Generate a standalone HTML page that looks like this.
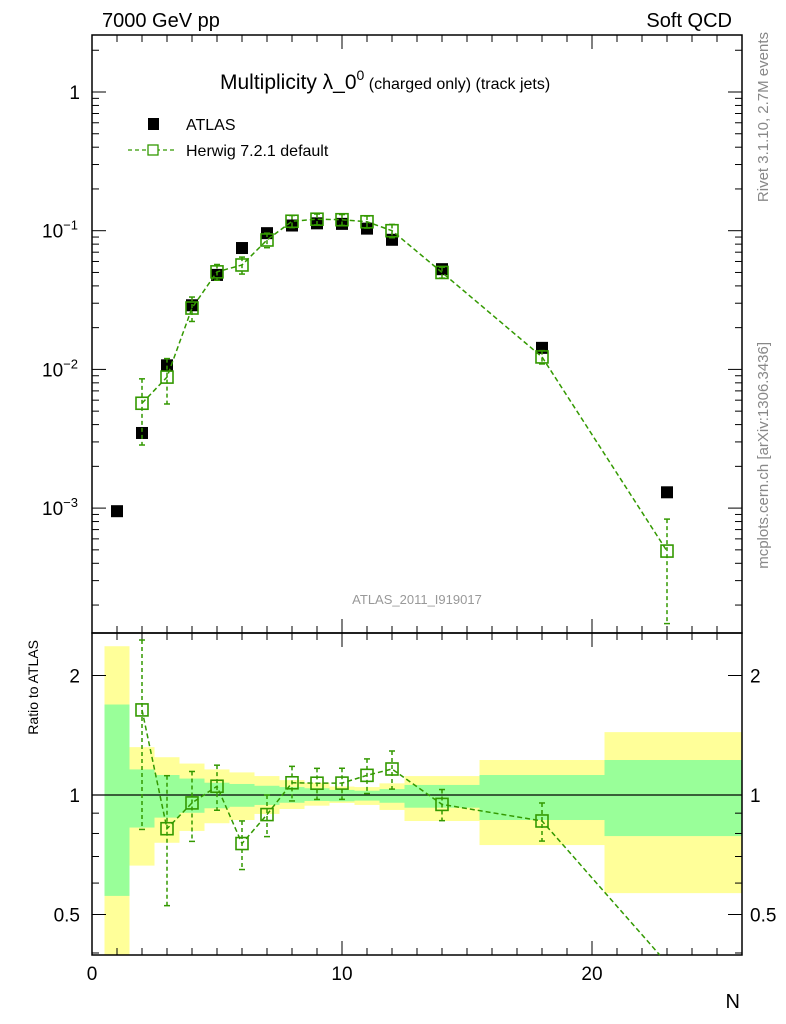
<!DOCTYPE html>
<html><head><meta charset="utf-8"><style>
html,body{margin:0;padding:0;background:#fff;overflow:hidden;width:786px;height:1024px;}
svg{display:block;overflow:hidden;}
svg text{font-family:"Liberation Sans",sans-serif;}
</style></head><body>
<svg id="c" width="786" height="1024" viewBox="0 0 786 1024" xmlns="http://www.w3.org/2000/svg"></svg>
<script>
const nValues=[1,2,3,4,5,6,7,8,9,10,11,12,14,18,23];
const binLo=[0.5,1.5,2.5,3.5,4.5,5.5,6.5,7.5,8.5,9.5,10.5,11.5,12.5,15.5,20.5];
const binHi=[1.5,2.5,3.5,4.5,5.5,6.5,7.5,8.5,9.5,10.5,11.5,12.5,15.5,20.5,26];
const atlasValues=[0.00095,0.00348,0.0107,0.029,0.048,0.075,0.096,0.109,0.113,0.112,0.1035,0.086,0.0528,0.0143,0.0013];
const herwigN=[2,3,4,5,6,7,8,9,10,11,12,14,18,23];
const herwigValues=[0.0057,0.0088,0.0277,0.0505,0.0566,0.0857,0.117,0.121,0.120,0.116,0.100,0.050,0.0123,0.00049];
const herwigRelErr=[0.5,0.36,0.2,0.13,0.14,0.12,0.1,0.09,0.09,0.1,0.11,0.09,0.11,0.7];
const totUp=[2.37,1.32,1.245,1.2,1.16,1.14,1.116,1.09,1.074,1.05,1.047,1.07,1.116,1.225,1.44];
const totDn=[0.2,0.664,0.758,0.812,0.849,0.865,0.896,0.922,0.94,0.955,0.944,0.917,0.86,0.748,0.566];
const statUp=[1.69,1.16,1.123,1.1,1.074,1.066,1.055,1.047,1.04,1.03,1.025,1.035,1.06,1.123,1.225];
const statDn=[0.557,0.828,0.877,0.902,0.926,0.934,0.944,0.956,0.966,0.964,0.968,0.956,0.929,0.865,0.788];
const yTickLabels=["1","10","10","10"];

const svg=document.getElementById('c');
const NS="http://www.w3.org/2000/svg";
function mk(tag,attrs,parent){const e=document.createElementNS(NS,tag);for(const k in attrs)e.setAttribute(k,attrs[k]);(parent||svg).appendChild(e);return e;}
const L=92,R=742,T=35,M=633,B=955;
const X=n=>L+(n-0)*(R-L)/26;
const Y=v=>92-Math.log10(v)*138.7;
const RY=r=>795-Math.log10(r)*397;
const cl=(y,a,b)=>Math.max(a,Math.min(b,y));
const G="#339900";

const bands=mk('g',{});

for(let i=0;i<nValues.length;i++){
  const yt=cl(RY(totUp[i]),M,B),yb=cl(RY(totDn[i]),M,B),st=cl(RY(statUp[i]),M,B),sb=cl(RY(statDn[i]),M,B);
  const r1=mk('rect',{x:X(binLo[i]),y:yt,width:X(Math.min(binHi[i],26))-X(binLo[i]),height:yb-yt,fill:'#ffff99'},bands);
  
  const r2=mk('rect',{x:X(binLo[i]),y:st,width:X(Math.min(binHi[i],26))-X(binLo[i]),height:sb-st,fill:'#99ff99'},bands);
  
}
mk('line',{x1:L,x2:R,y1:RY(1),y2:RY(1),stroke:'#000','stroke-width':1.2});

mk('rect',{x:L,y:T,width:R-L,height:M-T,fill:'none',stroke:'#000','stroke-width':1.5});
mk('rect',{x:L,y:M,width:R-L,height:B-M,fill:'none',stroke:'#000','stroke-width':1.5});

for(let n=1;n<26;n++){
  const len=n%10===0?14:7;
  for(const [y0,d] of [[T,1],[M,-1],[M,1],[B,-1]]) mk('line',{x1:X(n),x2:X(n),y1:y0,y2:y0+d*len,stroke:'#000'});
}
[0,10,20].forEach(n=>{const t=mk('text',{x:X(n),y:980,'font-size':19,'text-anchor':'middle'});t.textContent=n;
});
const xt=mk('text',{x:740,y:1008,'font-size':20,'text-anchor':'end'});xt.textContent='N';


for(let d=-4;d<=0;d++){for(let k=1;k<10;k++){const v=k*Math.pow(10,d);const y=Y(v);if(y<T||y>M)continue;const len=k===1?14:7;
 mk('line',{x1:L,x2:L+len,y1:y,y2:y,stroke:'#000'});mk('line',{x1:R,x2:R-len,y1:y,y2:y,stroke:'#000'});}}
const exps=[0,-1,-2,-3];
exps.forEach((e,i)=>{const t=mk('text',{x:e===0?80:78,y:Y(Math.pow(10,e))+7,'font-size':19,'text-anchor':'end'});
 
 t.textContent=yTickLabels[i];if(e!==0){const s=mk('tspan',{dy:-8,'font-size':13},t);s.textContent='−'+(-e);}});
[0.4,0.5,0.6,0.7,0.8,0.9,1,2].forEach(r=>{const y=RY(r);const len=(r===0.5||r===1||r===2)?14:7;
 mk('line',{x1:L,x2:L+len,y1:y,y2:y,stroke:'#000'});mk('line',{x1:R,x2:R-len,y1:y,y2:y,stroke:'#000'});});
for(const [r,s] of [[0.5,'0.5'],[1,'1'],[2,'2']]){
 const a=mk('text',{x:80,y:RY(r)+7,'font-size':19,'text-anchor':'end'});a.textContent=s;
 
 const b=mk('text',{x:750,y:RY(r)+7,'font-size':19}); b.textContent=s;
 }
const ry=mk('text',{x:0,y:0,'font-size':14,'text-anchor':'end',transform:'translate(38,640) rotate(-90)'});ry.textContent='Ratio to ATLAS';


const gm=mk('g',{});
for(let i=0;i<nValues.length;i++){const r=mk('rect',{x:X(nValues[i])-6,y:Y(atlasValues[i])-6,width:12,height:12,fill:'#000'},gm);
 }
const pts=herwigN.map((n,i)=>X(n)+','+Y(herwigValues[i])).join(' ');
mk('polyline',{points:pts,fill:'none',stroke:G,'stroke-width':1.5,'stroke-dasharray':'5,3'},gm);
for(let i=0;i<herwigN.length;i++){const x=X(herwigN[i]),v=herwigValues[i],e=herwigRelErr[i];
 const yu=cl(Y(v*(1+e)),T,M),yd=cl(Y(Math.max(v*(1-e),1e-6)),T,M-8);
 mk('line',{x1:x,x2:x,y1:yu,y2:yd,stroke:G,'stroke-width':1.5,'stroke-dasharray':'4,3'},gm);
 mk('line',{x1:x-3,x2:x+3,y1:yu,y2:yu,stroke:G,'stroke-width':1.5},gm);mk('line',{x1:x-3,x2:x+3,y1:yd,y2:yd,stroke:G,'stroke-width':1.5},gm);
 const r=mk('rect',{x:x-6,y:Y(v)-6,width:12,height:12,fill:'none',stroke:G,'stroke-width':1.6},gm);
 }

const gr=mk('g',{});
const ratios=herwigN.map((n,i)=>herwigValues[i]/atlasValues[nValues.indexOf(n)]);
// line segments clipped to ratio panel
const rp=[];
for(let i=0;i<herwigN.length;i++){
  const x=X(herwigN[i]),y=RY(ratios[i]);
  if(y>B&&i>0){const px=X(herwigN[i-1]),py=RY(ratios[i-1]);const t=(B-py)/(y-py);rp.push((px+t*(x-px))+','+B);}
  else rp.push(x+','+cl(y,M,B));
}
mk('polyline',{points:rp.join(' '),fill:'none',stroke:G,'stroke-width':1.5,'stroke-dasharray':'5,3'},gr);
for(let i=0;i<herwigN.length;i++){const x=X(herwigN[i]),r=ratios[i],e=herwigRelErr[i];
 if(RY(r)>B||RY(r)<M)continue;
 const yu=cl(RY(r*(1+e)),M,B),yd=cl(RY(Math.max(r*(1-e),1e-3)),M,B);
 mk('line',{x1:x,x2:x,y1:yu,y2:yd,stroke:G,'stroke-width':1.5,'stroke-dasharray':'4,3'},gr);
 mk('line',{x1:x-3,x2:x+3,y1:yu,y2:yu,stroke:G,'stroke-width':1.5},gr);mk('line',{x1:x-3,x2:x+3,y1:yd,y2:yd,stroke:G,'stroke-width':1.5},gr);
 const q=mk('rect',{x:x-6,y:RY(r)-6,width:12,height:12,fill:'none',stroke:G,'stroke-width':1.6},gr);
 }

function txt(x,y,s,size,attrs,name){const t=mk('text',Object.assign({x:x,y:y,'font-size':size},attrs||{}));t.textContent=s;
 return t;}
txt(102,27,'7000 GeV pp',20,{},'energy-label');
txt(732,27,'Soft QCD',20,{'text-anchor':'end'},'category-label');
const title=txt(220,89,'Multiplicity λ_0',21,{},'plot-title');
const sup=mk('tspan',{dy:-9,'font-size':14},title);sup.textContent='0';
const rest=mk('tspan',{dy:9,'font-size':16},title);rest.textContent=' (charged only) (track jets)';
mk('rect',{x:148,y:118,width:11,height:12,fill:'#000'});
txt(186,130,'ATLAS',16,{},'legend-atlas');
mk('line',{x1:128,x2:176,y1:150,y2:150,stroke:G,'stroke-width':1.3,'stroke-dasharray':'4,3'});
mk('rect',{x:148,y:145,width:10,height:10,fill:'#fff',stroke:G,'stroke-width':1.3});
txt(186,156,'Herwig 7.2.1 default',16,{},'legend-herwig');
txt(417,604,'ATLAS_2011_I919017',13,{'text-anchor':'middle',fill:'#999'},'analysis-id');
txt(0,0,'Rivet 3.1.10,  2.7M events',15,{'text-anchor':'end',fill:'#888',transform:'translate(768,32) rotate(-90)'},'rivet-label');
txt(0,0,'mcplots.cern.ch [arXiv:1306.3436]',15,{'text-anchor':'end',fill:'#888',transform:'translate(768,342) rotate(-90)'},'mcplots-label');
</script>
</body></html>
